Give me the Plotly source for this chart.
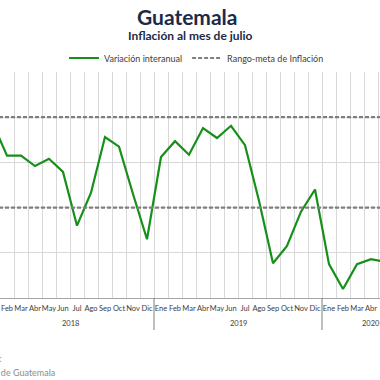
import plotly.graph_objects as go

years = ["2018"] * 12 + ["2019"] * 12 + ["2020"] * 7
months = ["Ene", "Feb", "Mar", "Abr", "May", "Jun", "Jul", "Ago", "Sep", "Oct", "Nov", "Dic"] * 2 + \
         ["Ene", "Feb", "Mar", "Abr", "May", "Jun", "Jul"]
inflacion = [4.85, 4.15, 4.15, 3.92, 4.08, 3.79, 2.60, 3.33, 4.56, 4.35, 3.30, 2.30,
             4.12, 4.47, 4.17, 4.76, 4.54, 4.81, 4.38, 3.15, 1.77, 2.15, 2.91, 3.40,
             1.75, 1.20, 1.75, 1.86, 1.80, None, None]
meta_sup = [5] * len(months)
meta_inf = [3] * len(months)
year_labels = ["2018", "2019", "2020"]

FONT = "Lato"
NAVY = "#1b2a48"
PLOT_T, PLOT_B = 72, 298
PH = PLOT_B - PLOT_T


def py(pix):
    """pixel row -> paper y"""
    return (PLOT_B - pix) / PH


idx = list(range(len(months)))

fig = go.Figure()
fig.add_trace(go.Scatter(x=idx, y=inflacion, mode="lines",
                         name="Variación interanual",
                         line=dict(color="#17901a", width=2.2)))
fig.add_trace(go.Scatter(x=idx, y=meta_sup, mode="lines",
                         name="Rango-meta de Inflación",
                         line=dict(color="#7f7f7f", width=2.2, dash="4px,2px")))
fig.add_trace(go.Scatter(x=idx, y=meta_inf, mode="lines",
                         name="Rango-meta de Inflación", showlegend=False,
                         line=dict(color="#7f7f7f", width=2.2, dash="4px,2px")))

fig.update_layout(
    width=380, height=380,
    margin=dict(l=0, r=0, t=PLOT_T, b=380 - PLOT_B, autoexpand=False),
    paper_bgcolor="white", plot_bgcolor="white",
    font=dict(family=FONT, color="#404040"),
    hovermode=False,
    legend=dict(orientation="h", x=64 / 380, xanchor="left", y=py(58), yanchor="middle",
                font=dict(size=9, color="#404040"), itemwidth=30,
                bgcolor="rgba(0,0,0,0)"),
    showlegend=True,
)
fig.update_xaxes(
    range=[0.5, 0.5 + 380 / 14], automargin=False,
    tickmode="array", tickvals=idx, ticktext=months,
    showgrid=False, zeroline=False,
    minor=dict(tickmode="array", tickvals=[i + 0.5 for i in idx], showgrid=True,
               gridcolor="#d9d9d9", gridwidth=1, ticks=""),
    showline=True, linecolor="#a6a6a6", linewidth=1,
    ticks="", tickangle=0, tickfont=dict(size=7.5, color="#404040"),
    ticklabelstandoff=3,
)
fig.update_yaxes(
    range=[1, 6], dtick=1, showgrid=True, gridcolor="#d9d9d9", gridwidth=1,
    showticklabels=False, zeroline=False, showline=False, automargin=False,
)

# year group labels and dividers
for k, yl in enumerate(year_labels):
    members = [i for i in idx if years[i] == yl]
    fig.add_annotation(text=yl, xref="x", yref="paper", x=sum(members) / len(members), y=py(323),
                       xanchor="center", yanchor="middle", showarrow=False,
                       font=dict(size=7.5, color="#404040", family=FONT))
    if k > 0:
        b = members[0] - 0.5
        fig.add_shape(type="line", xref="x", yref="paper", x0=b, x1=b, y0=0, y1=py(330),
                      line=dict(color="#7f7f7f", width=1))

fig.add_annotation(text="<b>Guatemala</b>", xref="paper", yref="paper", x=187 / 380, y=py(16),
                   xanchor="center", yanchor="middle", showarrow=False,
                   font=dict(size=21, color=NAVY, family=FONT))
fig.add_annotation(text="<b>Inflación al mes de julio</b>", xref="paper", yref="paper",
                   x=190 / 380, y=py(36), xanchor="center", yanchor="middle", showarrow=False,
                   font=dict(size=12, color=NAVY, family=FONT))
fig.add_annotation(text="Fuente:", xref="paper", yref="paper", x=4 / 380, y=py(358),
                   xanchor="right", yanchor="middle", showarrow=False,
                   font=dict(size=9, color="#8c8c8c", family=FONT))
fig.add_annotation(text="Banco de Guatemala", xref="paper", yref="paper", x=57 / 380, y=py(372),
                   xanchor="right", yanchor="middle", showarrow=False,
                   font=dict(size=9, color="#8c8c8c", family=FONT))

fig.write_html("out.html", config={"displayModeBar": False, "staticPlot": True},
               post_script="document.body.style.margin='0';document.body.style.overflow='hidden';")
